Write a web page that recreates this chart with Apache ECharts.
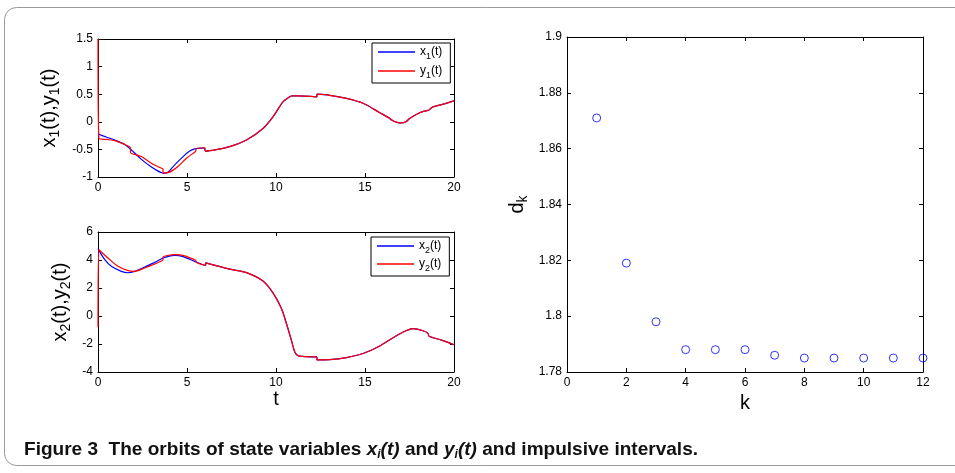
<!DOCTYPE html>
<html><head><meta charset="utf-8">
<script src="https://cdn.jsdelivr.net/npm/echarts@6/dist/echarts.min.js"></script>
<style>html,body{margin:0;padding:0;background:#fff}#c{width:955px;height:473px}</style>
</head><body><div id="c"></div>
<script>
// ---------- data ----------
const tX1 = [0,0.5,0.94,1.5,1.88,2.44,3.0,3.3,3.56,3.75,3.95,4.31,4.78,5.15,5.43,5.7,6.0,6.05,6.7,7.4,8.34,9.27,9.83,10.39,10.7,10.9,11.15,12.3,12.3,13.02,13.96,14.89,15.83,16.3,16.57,16.8,17.04,17.3,17.51,18.07,18.6,18.65,18.82,19.4,20];
const vX1 = [-0.22,-0.28,-0.33,-0.41,-0.51,-0.68,-0.82,-0.88,-0.92,-0.93,-0.91,-0.78,-0.63,-0.53,-0.49,-0.48,-0.47,-0.53,-0.5,-0.45,-0.33,-0.12,0.09,0.36,0.44,0.47,0.47,0.45,0.5,0.48,0.425,0.335,0.165,0.08,0.02,-0.01,-0.02,0.0,0.06,0.165,0.21,0.23,0.27,0.32,0.38];
const tY1 = [0,0.05,0.5,0.94,1.5,1.82,1.82,2.44,3.0,3.3,3.65,3.65,3.93,4.2,4.49,4.97,5.43,5.5,5.5,6.0,6.05,6.7,7.4,8.34,9.27,9.83,10.39,10.7,10.9,11.15,12.3,12.3,13.02,13.96,14.89,15.83,16.3,16.57,16.8,17.04,17.3,17.51,18.07,18.6,18.65,18.82,19.4,20];
const vY1 = [1.5,-0.3,-0.32,-0.34,-0.41,-0.46,-0.55,-0.63,-0.75,-0.8,-0.85,-0.93,-0.92,-0.88,-0.81,-0.66,-0.55,-0.53,-0.49,-0.47,-0.53,-0.5,-0.45,-0.33,-0.12,0.09,0.36,0.44,0.47,0.47,0.45,0.5,0.48,0.425,0.335,0.165,0.08,0.02,-0.01,-0.02,0.0,0.06,0.165,0.21,0.23,0.27,0.32,0.38];

const tX2 = [0,0.38,0.75,1.31,1.69,2.06,2.62,3.19,3.65,4.0,4.31,4.78,5.43,5.9,6.05,6.05,7.4,8.34,9.27,9.83,10.3,10.58,10.86,11.05,11.24,11.5,12.3,12.3,13.02,13.96,14.89,15.83,16.76,17.3,17.7,18.26,18.54,18.6,19.3,20];
const vX2 = [4.81,4.02,3.55,3.19,3.09,3.19,3.5,3.83,4.14,4.28,4.33,4.24,3.9,3.66,3.62,3.8,3.35,3.1,2.5,1.65,0.55,-0.52,-1.71,-2.55,-2.84,-2.88,-2.92,-3.14,-3.12,-2.97,-2.68,-2.14,-1.41,-1.05,-0.9,-1.05,-1.24,-1.45,-1.72,-2.05];
const tY2 = [0,0.05,0.56,1.12,1.69,2.06,2.62,3.19,3.65,3.65,4.31,4.78,5.43,5.5,5.5,5.9,6.05,6.05,7.4,8.34,9.27,9.83,10.3,10.58,10.86,11.05,11.24,11.5,12.3,12.3,13.02,13.96,14.89,15.83,16.76,17.3,17.7,18.26,18.54,18.6,19.3,20];
const vY2 = [-0.8,4.74,4.14,3.55,3.24,3.19,3.43,3.71,3.98,4.19,4.38,4.33,4.02,3.98,3.88,3.66,3.62,3.8,3.35,3.1,2.5,1.65,0.55,-0.52,-1.71,-2.55,-2.84,-2.88,-2.92,-3.14,-3.12,-2.97,-2.68,-2.14,-1.41,-1.05,-0.9,-1.05,-1.24,-1.45,-1.72,-2.05];

const kVals = [1,2,3,4,5,6,7,8,9,10,11,12];
const dVals = [1.871,1.819,1.798,1.788,1.788,1.788,1.786,1.785,1.785,1.785,1.785,1.785];

const ticksT  = [0,5,10,15,20];
const ticksY1 = [-1,-0.5,0,0.5,1,1.5];
const ticksY2 = [-4,-2,0,2,4,6];
const ticksK  = [0,2,4,6,8,10,12];
const ticksD  = [1.78,1.8,1.82,1.84,1.86,1.88,1.9];

// ---------- helpers ----------
const zip = (a,b) => a.map((v,i)=>[v,b[i]]);
// split the trajectory at impulsive jumps so that smoothing never bends across a jump
function segData(ts, vs){
  const out = [];
  for (let i = 0; i < ts.length; i++){
    if (i > 0 && ts[i] - ts[i-1] < 0.06){
      out.push([ts[i-1], NaN]);
      out.push([ts[i-1], vs[i-1]]);
    }
    out.push([ts[i], vs[i]]);
  }
  return out;
}
const FONT = '"Liberation Sans", Arial, Helvetica, sans-serif';
const BLUE = '#0000ff', RED = '#ff0000';
const rng = t => ({min:t[0], max:t[t.length-1], interval:+(t[1]-t[0]).toFixed(6)});

function axis(type, gridIndex, ticks, pos, showLabel, extra){
  return Object.assign({
    type:'value', gridIndex, position:pos, ...rng(ticks),
    axisLine:{show:true, onZero:false, lineStyle:{color:'#000', width:1}},
    axisTick:{show:true, inside:true, length:4, lineStyle:{color:'#000', width:1}},
    splitLine:{show:false},
    axisLabel:{show:showLabel, color:'#000', fontSize:12, fontFamily:FONT, margin:5,
      formatter: v => String(+v.toFixed(4))},
  }, extra||{});
}

const nameRich = {
  a:{fontSize:20, lineHeight:26, fontFamily:FONT, color:'#000'},
  s:{fontSize:14, lineHeight:14, fontFamily:FONT, color:'#000', verticalAlign:'bottom'}
};
const ynameStyle = {rich:nameRich, fontFamily:FONT, color:'#000'};

const xAxes = [
  axis('x',0,ticksT,'bottom',true),
  axis('x',0,ticksT,'top',false),
  axis('x',1,ticksT,'bottom',true,{name:'t', nameLocation:'middle', nameGap:16, nameTextStyle:{fontSize:20, fontFamily:FONT, color:'#000', verticalAlign:'top'}}),
  axis('x',1,ticksT,'top',false),
  axis('x',2,ticksK,'bottom',true,{name:'k', nameLocation:'middle', nameGap:16, nameTextStyle:{fontSize:20, fontFamily:FONT, color:'#000', verticalAlign:'top'}}),
  axis('x',2,ticksK,'top',false),
];
const yAxes = [
  axis('y',0,ticksY1,'left',true,{name:'{a|x}{s|1}{a|(t),y}{s|1}{a|(t)}', nameLocation:'middle', nameRotate:90, nameGap:36, nameTextStyle:ynameStyle}),
  axis('y',0,ticksY1,'right',false),
  axis('y',1,ticksY2,'left',true,{name:'{a|x}{s|2}{a|(t),y}{s|2}{a|(t)}', nameLocation:'middle', nameRotate:90, nameGap:25, nameTextStyle:ynameStyle}),
  axis('y',1,ticksY2,'right',false),
  axis('y',2,ticksD,'left',true,{name:'{a|d}{s|k}', nameLocation:'middle', nameRotate:90, nameGap:37, nameTextStyle:ynameStyle}),
  axis('y',2,ticksD,'right',false),
];

const legRich = {
  a:{fontSize:12, lineHeight:18, fontFamily:FONT, color:'#000'},
  s:{fontSize:9, lineHeight:9, fontFamily:FONT, color:'#000', verticalAlign:'bottom'}
};
function legend(names, left, top, gap){
  return {
    data:names, left, top, orient:'vertical', selectedMode:false,
    icon:'rect', itemWidth:37, itemHeight:1.5, itemGap:gap,
    padding:[3,8,3,6], backgroundColor:'#fff', borderColor:'#000', borderWidth:1, borderRadius:0,
    formatter: n => `{a|${n[0]}}{s|${n[1]}}{a|(t)}`,
    textStyle:{rich:legRich, fontFamily:FONT, color:'#000'}
  };
}

// caption width fit
const capSegs = [['b','Figure 3  The orbits of state variables '],['i','x'],['s','i'],['i','(t)'],['b',' and '],['i','y'],['s','i'],['i','(t)'],['b',' and impulsive intervals.']];
const capFonts = {b:`bold 19px ${FONT}`, i:`italic bold 19px ${FONT}`, s:`italic bold 12px ${FONT}`};
const mctx = document.createElement('canvas').getContext('2d');
let capW = 0;
capSegs.forEach(([k,s])=>{ mctx.font = capFonts[k]; capW += mctx.measureText(s).width; });
const capScale = 674 / capW;
const capRich = {
  b:{fontSize:19, fontWeight:'bold', fontFamily:FONT, lineHeight:22, fill:'#111'},
  i:{fontSize:19, fontWeight:'bold', fontStyle:'italic', fontFamily:FONT, lineHeight:22, fill:'#111'},
  s:{fontSize:12, fontWeight:'bold', fontStyle:'italic', fontFamily:FONT, lineHeight:12, verticalAlign:'bottom', fill:'#111'}
};
const capText = capSegs.map(([k,s])=>`{${k}|${s}}`).join('');

const lineBase = {type:'line', showSymbol:false, symbol:'none', smooth:0.3, connectNulls:false, emphasis:{disabled:true}};

const chart = echarts.init(document.getElementById('c'), null, {renderer:'canvas'});
chart.setOption({
  animation:false,
  backgroundColor:'#fff',
  grid:[
    {left:98, top:39, width:356, height:138, outerBoundsMode:'none'},
    {left:98, top:232, width:356, height:140, outerBoundsMode:'none'},
    {left:567, top:37, width:356, height:335, outerBoundsMode:'none'}
  ],
  xAxis:xAxes, yAxis:yAxes,
  legend:[legend(['x1','y1'],372,43,4), legend(['x2','y2'],371,237,3)],
  graphic:[
    {type:'rect', shape:{x:4.5, y:7.5, width:990, height:458, r:12}, style:{fill:'none', stroke:'#9a9a9a', lineWidth:1}, z:-1},
    {type:'text', x:24, y:450, scaleX:capScale, style:{text:capText, rich:capRich, verticalAlign:'middle', align:'left'}}
  ],
  series:[
    Object.assign({name:'x1', xAxisIndex:0, yAxisIndex:0, data:segData(tX1,vX1), lineStyle:{color:BLUE, width:1.2}, itemStyle:{color:BLUE}}, lineBase),
    Object.assign({name:'y1', xAxisIndex:0, yAxisIndex:0, data:segData(tY1,vY1), lineStyle:{color:RED, width:1.2}, itemStyle:{color:RED}}, lineBase),
    Object.assign({name:'x2', xAxisIndex:2, yAxisIndex:2, data:segData(tX2,vX2), lineStyle:{color:BLUE, width:1.2}, itemStyle:{color:BLUE}}, lineBase),
    Object.assign({name:'y2', xAxisIndex:2, yAxisIndex:2, data:segData(tY2,vY2), lineStyle:{color:RED, width:1.2}, itemStyle:{color:RED}}, lineBase),
    {type:'scatter', name:'dk', xAxisIndex:4, yAxisIndex:4, data:zip(kVals,dVals), symbol:'circle', symbolSize:8, clip:false,
     itemStyle:{color:'rgba(0,0,0,0)', borderColor:BLUE, borderWidth:1}, emphasis:{disabled:true}}
  ]
});
</script></body></html>
